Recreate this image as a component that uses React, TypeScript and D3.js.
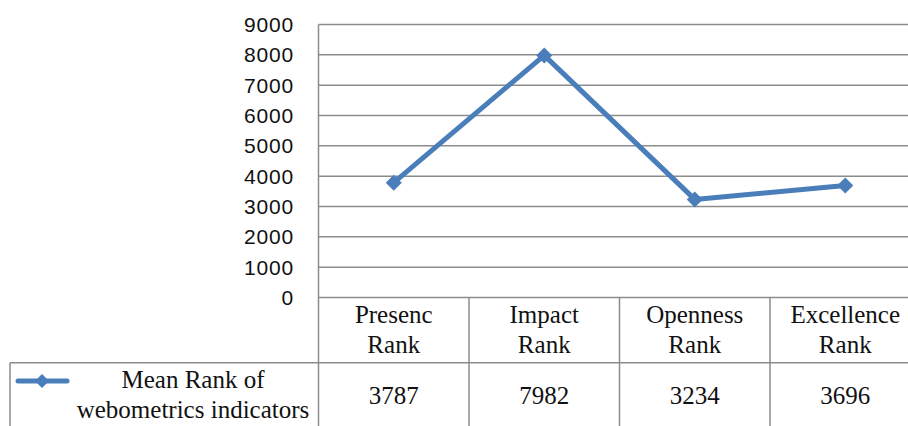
import React from "react";
import * as d3 from "d3";

const categories = [["Presenc", "Rank"], ["Impact", "Rank"], ["Openness", "Rank"], ["Excellence", "Rank"]];
const values = [3787, 7982, 3234, 3696];
const yTicks = [0, 1000, 2000, 3000, 4000, 5000, 6000, 7000, 8000, 9000];
const seriesName = ["Mean Rank of", "webometrics indicators"];

export default function App() {
  const W = 908, H = 426;
  const left = 318.5, right = 920.5, top = 24.5, bottom = 297.5;
  const tableTop = 362.7;
  const x = d3.scaleBand<number>().domain(d3.range(categories.length)).range([left, right]);
  const y = d3.scaleLinear().domain([0, 9000]).range([bottom, top]);
  const line = d3.line<number>().x((_, i) => x(i)! + x.bandwidth() / 2).y((d) => y(d));
  const grid = "#8c8c8c";
  const blue = "#4a7ebb";
  const serifStyle = { fontFamily: "Liberation Serif" };
  const sansStyle = { fontFamily: "Liberation Sans", letterSpacing: "0.8px" };
  const diamond = (cx: number, cy: number, r: number) =>
    `M${cx},${cy - r}L${cx + r},${cy}L${cx},${cy + r}L${cx - r},${cy}Z`;
  return (
    <svg width={W} height={H} style={{ position: "absolute", left: 0, top: 0, background: "#fff" }}>
      {yTicks.map((t) => (
        <g key={t}>
          <line x1={left} x2={W} y1={y(t)} y2={y(t)} stroke={grid} strokeWidth={1.5} />
          <text x={294} y={y(t)} dy="0.36em" textAnchor="end" style={sansStyle} fontSize={21} fill="#111">
            {t}
          </text>
        </g>
      ))}
      <line x1={left} x2={left} y1={top} y2={H} stroke={grid} strokeWidth={1.5} />
      {categories.map((_, i) => (
        <line key={i} x1={x(i)! + x.bandwidth()} x2={x(i)! + x.bandwidth()} y1={bottom} y2={H} stroke={grid} strokeWidth={1.5} />
      ))}
      <line x1={10} x2={W} y1={tableTop} y2={tableTop} stroke={grid} strokeWidth={1.5} />
      <line x1={10} x2={10} y1={tableTop} y2={H} stroke={grid} strokeWidth={1.5} />
      {categories.map((c, i) => (
        <text key={i} x={x(i)! + x.bandwidth() / 2} textAnchor="middle" style={serifStyle} fontSize={25} fill="#111">
          <tspan x={x(i)! + x.bandwidth() / 2} y={322.7}>{c[0]}</tspan>
          <tspan x={x(i)! + x.bandwidth() / 2} y={353.3}>{c[1]}</tspan>
        </text>
      ))}
      {values.map((v, i) => (
        <text key={i} x={x(i)! + x.bandwidth() / 2} y={404} textAnchor="middle" style={serifStyle} fontSize={25} fill="#111">
          {v}
        </text>
      ))}
      <text textAnchor="middle" style={serifStyle} fontSize={25} fill="#111">
        <tspan x={193} y={388.3}>{seriesName[0]}</tspan>
        <tspan x={193} y={418.3}>{seriesName[1]}</tspan>
      </text>
      <line x1={18} x2={67} y1={381} y2={381} stroke={blue} strokeWidth={5} strokeLinecap="round" />
      <path d={diamond(42, 381, 7)} fill={blue} />
      <path d={line(values)!} fill="none" stroke={blue} strokeWidth={5} strokeLinejoin="round" />
      {values.map((v, i) => (
        <path key={i} d={diamond(x(i)! + x.bandwidth() / 2, y(v), 8)} fill={blue} />
      ))}
    </svg>
  );
}
